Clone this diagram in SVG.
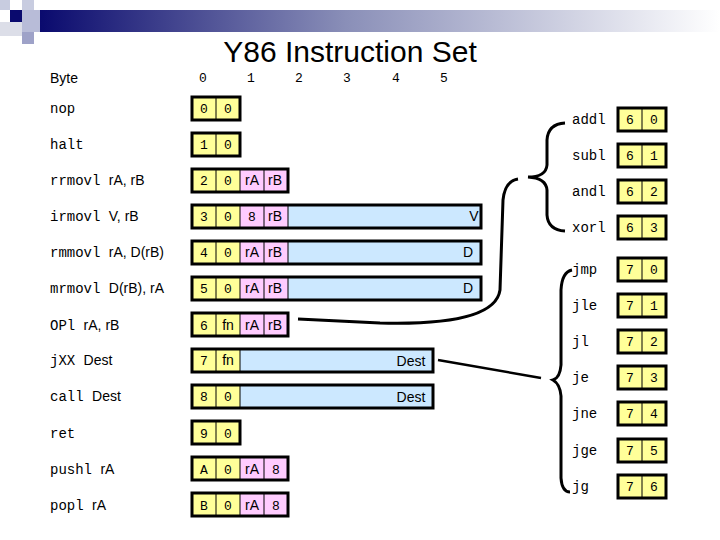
<svg xmlns="http://www.w3.org/2000/svg" width="720" height="540" viewBox="0 0 720 540">
<defs>
<linearGradient id="bar" x1="0" x2="1" y1="0" y2="0"><stop offset="0" stop-color="#0a0a6e"/><stop offset="0.45" stop-color="#8a8fb8"/><stop offset="1" stop-color="#ffffff"/></linearGradient>
<style>
.b{fill:none;stroke:#000;stroke-width:3}
.y{fill:#ffff99}.p{fill:#ffccff}.c{fill:#cce8ff}
.d{stroke:#000;stroke-width:1}
.t{font-family:"Liberation Sans",Arial,sans-serif;font-size:14px}
.m{font-family:"Liberation Mono","Courier New",monospace;font-size:14px}
.n{font-family:"Liberation Mono","Courier New",monospace;font-size:13px;text-anchor:middle}
.s{font-family:"Liberation Sans",Arial,sans-serif;font-size:14px;text-anchor:middle}
.br{fill:none;stroke:#000;stroke-width:3}
</style>
</defs>
<rect width="720" height="540" fill="#fff"/>
<g id="header">
<rect x="40" y="10" width="680" height="22" fill="url(#bar)"/>
<rect x="0" y="0" width="10" height="10" fill="#c8cce0"/>
<rect x="10" y="10" width="12" height="12" fill="#0a0a6e"/>
<rect x="22" y="0" width="12" height="10" fill="#c8cce0"/>
<rect x="22" y="10" width="18" height="22" fill="#b8bcd8"/>
<rect x="0" y="22" width="22" height="14" fill="#dcdee8"/>
<rect x="22" y="32" width="12" height="12" fill="#9ea2c8"/>
<text x="350" y="62" font-family="Liberation Sans,Arial,sans-serif" font-size="30" text-anchor="middle">Y86 Instruction Set</text>
<text x="50" y="83" class="t">Byte</text>
<text x="203" y="82" class="n">0</text><text x="251" y="82" class="n">1</text><text x="299" y="82" class="n">2</text><text x="347" y="82" class="n">3</text><text x="396" y="82" class="n">4</text><text x="444" y="82" class="n">5</text>
</g>
<g id="labels">
<text x="50" y="113" class="m">nop</text>
<text x="50" y="149" class="m">halt</text>
<text x="50" y="185" class="m">rrmovl <tspan class="t">rA, rB</tspan></text>
<text x="50" y="221" class="m">irmovl <tspan class="t">V, rB</tspan></text>
<text x="50" y="257" class="m">rmmovl <tspan class="t">rA, D(rB)</tspan></text>
<text x="50" y="293" class="m">mrmovl <tspan class="t">D(rB), rA</tspan></text>
<text x="50" y="330" class="m">OPl <tspan class="t">rA, rB</tspan></text>
<text x="50" y="365" class="m">jXX <tspan class="t">Dest</tspan></text>
<text x="50" y="401" class="m">call <tspan class="t">Dest</tspan></text>
<text x="50" y="438" class="m">ret</text>
<text x="50" y="474" class="m">pushl <tspan class="t">rA</tspan></text>
<text x="50" y="510" class="m">popl <tspan class="t">rA</tspan></text>
</g>
<g id="n-nop"><rect x="192" y="97" width="48" height="23" class="y"/><line x1="216" y1="97" x2="216" y2="120" class="d"/><rect x="192" y="97" width="48" height="23" class="b"/><text x="204" y="113" class="n">0</text><text x="228" y="113" class="n">0</text></g>
<g id="n-halt"><rect x="192" y="133" width="48" height="23" class="y"/><line x1="216" y1="133" x2="216" y2="156" class="d"/><rect x="192" y="133" width="48" height="23" class="b"/><text x="204" y="149" class="n">1</text><text x="228" y="149" class="n">0</text></g>
<g id="n-rrmovl"><rect x="192" y="169" width="48" height="23" class="y"/><rect x="240" y="169" width="48" height="23" class="p"/><line x1="216" y1="169" x2="216" y2="192" class="d"/><line x1="240" y1="169" x2="240" y2="192" class="d"/><line x1="264" y1="169" x2="264" y2="192" class="d"/><rect x="192" y="169" width="96" height="23" class="b"/><text x="204" y="185" class="n">2</text><text x="228" y="185" class="n">0</text><text x="252" y="185" class="s">rA</text><text x="275" y="185" class="s">rB</text></g>
<g id="n-irmovl"><rect x="192" y="205" width="48" height="23" class="y"/><rect x="240" y="205" width="48" height="23" class="p"/><rect x="288" y="205" width="193" height="23" class="c"/><line x1="216" y1="205" x2="216" y2="228" class="d"/><line x1="240" y1="205" x2="240" y2="228" class="d"/><line x1="264" y1="205" x2="264" y2="228" class="d"/><line x1="288" y1="205" x2="288" y2="228" class="d"/><rect x="192" y="205" width="289" height="23" class="b"/><text x="204" y="221" class="n">3</text><text x="228" y="221" class="n">0</text><text x="252" y="221" class="n">8</text><text x="275" y="221" class="s">rB</text><text x="474" y="221" class="s">V</text></g>
<g id="n-rmmovl"><rect x="192" y="241" width="48" height="23" class="y"/><rect x="240" y="241" width="48" height="23" class="p"/><rect x="288" y="241" width="193" height="23" class="c"/><line x1="216" y1="241" x2="216" y2="264" class="d"/><line x1="240" y1="241" x2="240" y2="264" class="d"/><line x1="264" y1="241" x2="264" y2="264" class="d"/><line x1="288" y1="241" x2="288" y2="264" class="d"/><rect x="192" y="241" width="289" height="23" class="b"/><text x="204" y="257" class="n">4</text><text x="228" y="257" class="n">0</text><text x="252" y="257" class="s">rA</text><text x="275" y="257" class="s">rB</text><text x="468" y="257" class="s">D</text></g>
<g id="n-mrmovl"><rect x="192" y="277" width="48" height="23" class="y"/><rect x="240" y="277" width="48" height="23" class="p"/><rect x="288" y="277" width="193" height="23" class="c"/><line x1="216" y1="277" x2="216" y2="300" class="d"/><line x1="240" y1="277" x2="240" y2="300" class="d"/><line x1="264" y1="277" x2="264" y2="300" class="d"/><line x1="288" y1="277" x2="288" y2="300" class="d"/><rect x="192" y="277" width="289" height="23" class="b"/><text x="204" y="293" class="n">5</text><text x="228" y="293" class="n">0</text><text x="252" y="293" class="s">rA</text><text x="275" y="293" class="s">rB</text><text x="468" y="293" class="s">D</text></g>
<g id="n-opl"><rect x="192" y="313" width="48" height="23" class="y"/><rect x="240" y="313" width="48" height="23" class="p"/><line x1="216" y1="313" x2="216" y2="336" class="d"/><line x1="240" y1="313" x2="240" y2="336" class="d"/><line x1="264" y1="313" x2="264" y2="336" class="d"/><rect x="192" y="313" width="96" height="23" class="b"/><text x="204" y="330" class="n">6</text><text x="228" y="330" class="s">fn</text><text x="252" y="330" class="s">rA</text><text x="275" y="330" class="s">rB</text></g>
<g id="n-jxx"><rect x="192" y="349" width="48" height="23" class="y"/><rect x="240" y="349" width="193" height="23" class="c"/><line x1="216" y1="349" x2="216" y2="372" class="d"/><line x1="240" y1="349" x2="240" y2="372" class="d"/><rect x="192" y="349" width="241" height="23" class="b"/><text x="204" y="365" class="n">7</text><text x="228" y="365" class="s">fn</text><text x="411" y="366" class="s">Dest</text></g>
<g id="n-call"><rect x="192" y="385" width="48" height="23" class="y"/><rect x="240" y="385" width="193" height="23" class="c"/><line x1="216" y1="385" x2="216" y2="408" class="d"/><line x1="240" y1="385" x2="240" y2="408" class="d"/><rect x="192" y="385" width="241" height="23" class="b"/><text x="204" y="401" class="n">8</text><text x="228" y="401" class="n">0</text><text x="411" y="402" class="s">Dest</text></g>
<g id="n-ret"><rect x="192" y="421" width="48" height="23" class="y"/><line x1="216" y1="421" x2="216" y2="444" class="d"/><rect x="192" y="421" width="48" height="23" class="b"/><text x="204" y="438" class="n">9</text><text x="228" y="438" class="n">0</text></g>
<g id="n-pushl"><rect x="192" y="457" width="48" height="23" class="y"/><rect x="240" y="457" width="48" height="23" class="p"/><line x1="216" y1="457" x2="216" y2="480" class="d"/><line x1="240" y1="457" x2="240" y2="480" class="d"/><line x1="264" y1="457" x2="264" y2="480" class="d"/><rect x="192" y="457" width="96" height="23" class="b"/><text x="204" y="474" class="n">A</text><text x="228" y="474" class="n">0</text><text x="252" y="474" class="s">rA</text><text x="276" y="474" class="n">8</text></g>
<g id="n-popl"><rect x="192" y="493" width="48" height="23" class="y"/><rect x="240" y="493" width="48" height="23" class="p"/><line x1="216" y1="493" x2="216" y2="516" class="d"/><line x1="240" y1="493" x2="240" y2="516" class="d"/><line x1="264" y1="493" x2="264" y2="516" class="d"/><rect x="192" y="493" width="96" height="23" class="b"/><text x="204" y="510" class="n">B</text><text x="228" y="510" class="n">0</text><text x="252" y="510" class="s">rA</text><text x="276" y="510" class="n">8</text></g>
<g id="right">
<text x="572" y="124" class="m">addl</text><text x="572" y="160" class="m">subl</text><text x="572" y="196" class="m">andl</text><text x="572" y="232" class="m">xorl</text>
<text x="572" y="274" class="m">jmp</text><text x="572" y="310" class="m">jle</text><text x="572" y="346" class="m">jl</text><text x="572" y="382" class="m">je</text><text x="572" y="418" class="m">jne</text><text x="572" y="455" class="m">jge</text><text x="572" y="491" class="m">jg</text>
</g>
<g id="codes" font-family="Liberation Mono,Courier New,monospace" font-size="13" text-anchor="middle">
<g id="c60"><rect x="618" y="108" width="48" height="23" class="y"/><line x1="642" y1="108" x2="642" y2="131" class="d"/><rect x="618" y="108" width="48" height="23" class="b"/><text x="630" y="124">6</text><text x="654" y="124">0</text></g>
<g id="c61"><rect x="618" y="144" width="48" height="23" class="y"/><line x1="642" y1="144" x2="642" y2="167" class="d"/><rect x="618" y="144" width="48" height="23" class="b"/><text x="630" y="160">6</text><text x="654" y="160">1</text></g>
<g id="c62"><rect x="618" y="180" width="48" height="23" class="y"/><line x1="642" y1="180" x2="642" y2="203" class="d"/><rect x="618" y="180" width="48" height="23" class="b"/><text x="630" y="196">6</text><text x="654" y="196">2</text></g>
<g id="c63"><rect x="618" y="216" width="48" height="23" class="y"/><line x1="642" y1="216" x2="642" y2="239" class="d"/><rect x="618" y="216" width="48" height="23" class="b"/><text x="630" y="232">6</text><text x="654" y="232">3</text></g>
<g id="c70"><rect x="618" y="258" width="48" height="23" class="y"/><line x1="642" y1="258" x2="642" y2="281" class="d"/><rect x="618" y="258" width="48" height="23" class="b"/><text x="630" y="274">7</text><text x="654" y="274">0</text></g>
<g id="c71"><rect x="618" y="294" width="48" height="23" class="y"/><line x1="642" y1="294" x2="642" y2="317" class="d"/><rect x="618" y="294" width="48" height="23" class="b"/><text x="630" y="310">7</text><text x="654" y="310">1</text></g>
<g id="c72"><rect x="618" y="330" width="48" height="23" class="y"/><line x1="642" y1="330" x2="642" y2="353" class="d"/><rect x="618" y="330" width="48" height="23" class="b"/><text x="630" y="346">7</text><text x="654" y="346">2</text></g>
<g id="c73"><rect x="618" y="366" width="48" height="23" class="y"/><line x1="642" y1="366" x2="642" y2="389" class="d"/><rect x="618" y="366" width="48" height="23" class="b"/><text x="630" y="382">7</text><text x="654" y="382">3</text></g>
<g id="c74"><rect x="618" y="402" width="48" height="23" class="y"/><line x1="642" y1="402" x2="642" y2="425" class="d"/><rect x="618" y="402" width="48" height="23" class="b"/><text x="630" y="418">7</text><text x="654" y="418">4</text></g>
<g id="c75"><rect x="618" y="439" width="48" height="23" class="y"/><line x1="642" y1="439" x2="642" y2="462" class="d"/><rect x="618" y="439" width="48" height="23" class="b"/><text x="630" y="455">7</text><text x="654" y="455">5</text></g>
<g id="c76"><rect x="618" y="475" width="48" height="23" class="y"/><line x1="642" y1="475" x2="642" y2="498" class="d"/><rect x="618" y="475" width="48" height="23" class="b"/><text x="630" y="491">7</text><text x="654" y="491">6</text></g>
</g>
<g id="connectors">
<path class="br" d="M565,123 Q548,124 547,140 L547,165 Q546,177 528,177 Q546,178 547,190 L547,215 Q548,230 565,231"/>
<path class="br" d="M298,319 L380,323 Q495,326 500,290 L503,200 Q505,181 518,179"/>
<path class="br" d="M572,270 Q562,272 561,290 L561,365 Q560,378 553,380 Q560,384 561,396 L561,478 Q562,492 570,492"/>
<line x1="438" y1="360" x2="541" y2="378" stroke="#000" stroke-width="2.5"/>
</g>
</svg>
